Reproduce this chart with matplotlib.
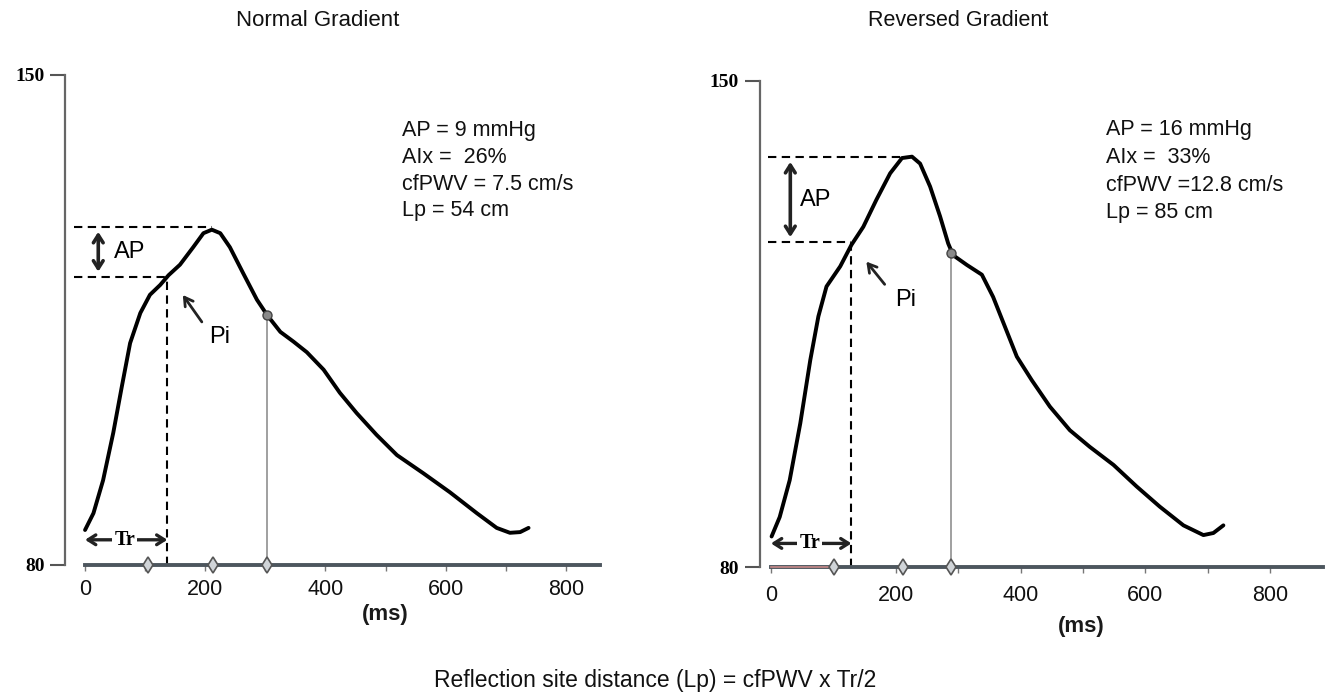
import numpy as np
import matplotlib.pyplot as plt

plt.rcParams['font.family'] = ['Liberation Sans', 'DejaVu Sans']

# pressure waveforms (time in ms, pressure in mmHg)
normal_t = [0, 14, 30, 47, 61, 75, 92, 108, 125, 139, 158, 180, 197, 211, 225, 241,
            263, 286, 303, 325, 347, 369, 397, 424, 452, 485, 519, 563, 607, 652,
            685, 707, 724, 738]
normal_p = [85.0, 87.4, 92.1, 98.9, 105.4, 111.7, 116.0, 118.6, 120.0, 121.4, 122.9,
            125.4, 127.4, 127.9, 127.4, 125.4, 121.7, 117.9, 115.7, 113.3, 111.9,
            110.4, 107.9, 104.6, 101.7, 98.6, 95.7, 93.1, 90.4, 87.4, 85.3, 84.6,
            84.7, 85.3]

reversed_t = [1, 14, 30, 47, 63, 76, 89, 111, 129, 148, 169, 191, 210, 226, 239, 255,
              271, 284, 292, 314, 338, 356, 375, 394, 418, 447, 479, 511, 549, 586,
              623, 661, 693, 709, 725]
reversed_p = [84.4, 87.2, 92.5, 100.7, 109.8, 116.1, 120.4, 123.3, 126.4, 129.0,
              132.9, 136.7, 138.9, 139.1, 138.1, 134.8, 130.5, 126.6, 124.9, 123.5,
              122.1, 118.9, 114.6, 110.3, 106.9, 103.1, 99.7, 97.3, 94.7, 91.6, 88.7,
              86.0, 84.6, 84.9, 86.0]

# peak / inflection / reflection points
normal_peak = (211, 128.3)
normal_pi = (137, 121.2)
normal_mark = (303, 115.7)
normal_axis_marks = [105, 213, 303]

reversed_peak = (226, 139.05)
reversed_pi = (129, 126.8)
reversed_mark = (289, 125.2)
reversed_axis_marks = [101, 212, 288]

normal_stats = ['AP = 9 mmHg', 'AIx =  26%', 'cfPWV = 7.5 cm/s', 'Lp = 54 cm']
reversed_stats = ['AP = 16 mmHg', 'AIx =  33%', 'cfPWV =12.8 cm/s', 'Lp = 85 cm']

x_ticks = [0, 200, 400, 600, 800]
x_minor = [100, 300, 500, 700]
y_ticks = [80, 150]

AXIS_COL = '#4d565e'


def draw_panel(ax, t, p, peak, pi, mark, axis_marks, stats, xlim, yaxis_x, xend,
               dash_start, ap_x, ap_text_x, pi_tip, pi_tail, pi_text, tr_y,
               stats_pos, stats_step, ms_pos, xpad):
    ax.set_xlim(*xlim)
    ax.set_ylim(76, 152)

    # axes look
    for s in ['top', 'right']:
        ax.spines[s].set_visible(False)
    ax.spines['left'].set_position(('data', yaxis_x))
    ax.spines['left'].set_bounds(80, 150)
    ax.spines['left'].set_color('#666666')
    ax.spines['left'].set_linewidth(1.6)
    ax.spines['bottom'].set_position(('data', 80))
    ax.spines['bottom'].set_bounds(0, xend)
    ax.spines['bottom'].set_color(AXIS_COL)
    ax.spines['bottom'].set_linewidth(2.8)

    ax.set_xticks(x_ticks)
    ax.set_xticks(x_minor, minor=True)
    ax.set_yticks(y_ticks)
    ax.tick_params(axis='x', which='both', direction='out', length=4, width=1,
                   color='#777777', pad=xpad, labelsize=15.5, labelcolor='#111111')
    ax.tick_params(axis='y', direction='out', length=11, width=1.5,
                   color='#555555', pad=4, labelsize=14)
    for lbl in ax.get_yticklabels():
        lbl.set_fontfamily('Liberation Serif')
        lbl.set_fontweight('bold')

    ax.text(ms_pos[0], ms_pos[1], '(ms)', fontsize=16, fontweight='bold',
            ha='center', va='center', color='#1a1a1a', clip_on=False)

    # reflection marker line
    ax.plot([mark[0], mark[0]], [80, mark[1]], color='#999999', lw=1.3, zorder=2)

    # dashed guides for AP and Tr
    dash = dict(color='black', lw=1.5, ls=(0, (4, 2.6)), zorder=2)
    ax.plot([dash_start, peak[0]], [peak[1], peak[1]], **dash)
    ax.plot([dash_start, pi[0]], [pi[1], pi[1]], **dash)
    ax.plot([pi[0], pi[0]], [80, pi[1]], **dash)

    # waveform
    ax.plot(t, p, color='black', lw=2.8, solid_joinstyle='round',
            solid_capstyle='round', zorder=3)
    ax.plot(mark[0], mark[1], 'o', ms=6.5, mfc='#8a8a8a', mec='#444444', mew=1,
            zorder=4)

    # small markers sitting on the time axis
    ax.plot(axis_marks, [80] * len(axis_marks), 'd', ms=8, mfc='#d0d4d8',
            mec='#555555', mew=1.2, zorder=5, clip_on=False)

    # AP double arrow
    ax.annotate('', xy=(ap_x, pi[1] + 0.3), xytext=(ap_x, peak[1] - 0.3),
                arrowprops=dict(arrowstyle='<->,head_length=0.55,head_width=0.35',
                                lw=2.6, color='#222222'))
    ax.text(ap_text_x, (peak[1] + pi[1]) / 2, 'AP', fontsize=17, va='center',
            ha='left')

    # Pi arrow
    ax.annotate('', xy=pi_tip, xytext=pi_tail,
                arrowprops=dict(arrowstyle='->,head_length=0.6,head_width=0.35',
                                lw=2.0, color='#222222'))
    ax.text(pi_text[0], pi_text[1], 'Pi', fontsize=17, va='center', ha='left')

    # Tr arrow
    ax.annotate('', xy=(0, tr_y), xytext=(pi[0], tr_y),
                arrowprops=dict(arrowstyle='<->,head_length=0.55,head_width=0.35',
                                lw=2.4, color='#222222', shrinkA=0, shrinkB=0))
    ax.text(pi[0] * 0.48, tr_y, 'Tr', fontsize=14.5, fontweight='bold',
            family='Liberation Serif', ha='center', va='center', zorder=6,
            bbox=dict(boxstyle='square,pad=0.1', fc='white', ec='none'))

    # stats block
    for i, s in enumerate(stats):
        ax.text(stats_pos[0], stats_pos[1] - i * stats_step, s, fontsize=15.5,
                ha='left', va='center', color='#111111')


fig = plt.figure(figsize=(13.34, 6.93), dpi=100)

ax1 = fig.add_axes([0.04348, 0.1443, 0.4167, 0.7677])
draw_panel(ax1, normal_t, normal_p, normal_peak, normal_pi, normal_mark,
           normal_axis_marks, normal_stats, xlim=(-45, 880), yaxis_x=-33,
           xend=857, dash_start=-18, ap_x=22, ap_text_x=48, pi_tip=(160, 118.9),
           pi_tail=(197, 114.4), pi_text=(206, 112.6), tr_y=83.6,
           stats_pos=(527, 142.0), stats_step=3.8, ms_pos=(500, 72.9), xpad=6)

ax2 = fig.add_axes([0.5639, 0.1417, 0.4327, 0.7615])
draw_panel(ax2, reversed_t, reversed_p, reversed_peak, reversed_pi, reversed_mark,
           reversed_axis_marks, reversed_stats, xlim=(-30, 895), yaxis_x=-17.6,
           xend=885, dash_start=-4, ap_x=31, ap_text_x=47, pi_tip=(150, 124.3),
           pi_tail=(185, 120.4), pi_text=(199, 118.5), tr_y=83.4,
           stats_pos=(537, 143.0), stats_step=4.0, ms_pos=(497, 71.4), xpad=9)
# faint reddish start of the reversed time axis
ax2.plot([0, 95], [80, 80], color='#c98a8a', lw=1.2, zorder=4, clip_on=False)

fig.text(318 / 1334, 1 - 20 / 693, 'Normal Gradient', fontsize=16, ha='center',
         va='center', color='#111111')
fig.text(958 / 1334, 1 - 20 / 693, 'Reversed Gradient', fontsize=15.5, ha='center',
         va='center', color='#111111')
fig.text(655 / 1334, 1 - 680 / 693, 'Reflection site distance (Lp) = cfPWV x Tr/2',
         fontsize=16.5, ha='center', va='center', color='#111111')

fig.savefig('out.png', dpi=100)
